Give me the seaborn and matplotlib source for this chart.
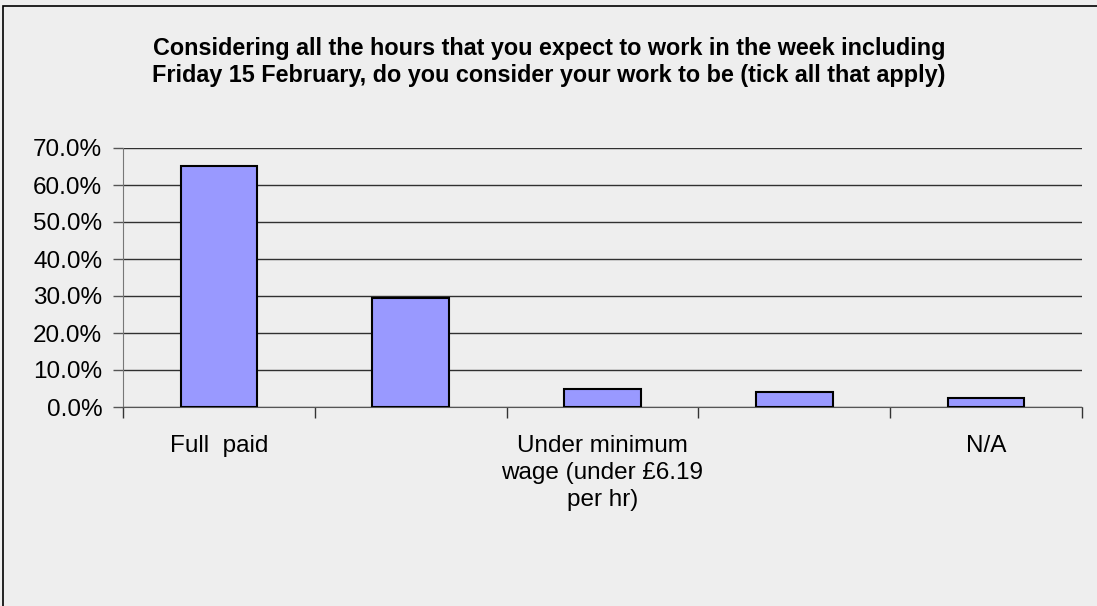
"""
Bar chart of how respondents consider their work (tick all that apply).
"""

import matplotlib
matplotlib.use("Agg")
import matplotlib.pyplot as plt
import matplotlib.ticker as mticker
import seaborn as sns
import pandas as pd

# data
categories = ["Full  paid", "Partly paid", "Under minimum wage", "Unpaid", "N/A"]
shares = [0.651, 0.295, 0.050, 0.040, 0.025]
# Excel only had room for every other category label
shown_labels = ["Full  paid", "", "Under minimum\nwage (under £6.19\nper hr)", "", "N/A"]
y_ticks = [0.0, 0.1, 0.2, 0.3, 0.4, 0.5, 0.6, 0.7]

title = ("Considering all the hours that you expect to work in the week including\n"
         "Friday 15 February, do you consider your work to be (tick all that apply)")

BG = "#eeeeee"
BAR = "#9999ff"

sns.set_style("white")
plt.rcParams["font.family"] = ["Liberation Sans", "DejaVu Sans"]
plt.rcParams["text.color"] = "black"
plt.rcParams["xtick.labelcolor"] = "black"
plt.rcParams["ytick.labelcolor"] = "black"

df = pd.DataFrame({"category": categories, "share": shares})

W, H = 1097, 606
fig = plt.figure(figsize=(W / 100, H / 100), dpi=100, facecolor=BG)

# outer frame (only top and left edges fall inside the image)
fig.add_artist(plt.Rectangle((3 / W, -0.1), 1.2, (H - 6) / H + 0.1,
                             transform=fig.transFigure, fill=False,
                             edgecolor="#000000", linewidth=1.2))

left, right, top, bottom = 123, 1082, 148, 407
ax = fig.add_axes([left / W, 1 - bottom / H, (right - left) / W, (bottom - top) / H])
ax.set_facecolor(BG)

sns.barplot(data=df, x="category", y="share", color=BAR, width=0.4,
            edgecolor="black", linewidth=1.5, saturation=1, ax=ax, zorder=3)

ax.set_xlim(-0.5, len(categories) - 0.5)
ax.set_ylim(0, 0.7)
ax.set_yticks(y_ticks)
ax.yaxis.set_major_formatter(mticker.PercentFormatter(1, decimals=1))
ax.grid(axis="y", color="#303030", linewidth=1, zorder=0)
ax.set_axisbelow(True)

# ticks on category boundaries, labels at category centres
ax.set_xticks([i - 0.5 for i in range(len(categories) + 1)])
ax.set_xticklabels([])
ax.set_xticks(range(len(categories)), minor=True)
ax.set_xticklabels(shown_labels, minor=True, fontsize=17.5, linespacing=1.3,
                   va="top", color="black")
ax.tick_params(axis="x", which="major", length=8, width=1, color="#333333",
               direction="out", bottom=True)
ax.tick_params(axis="x", which="minor", length=0, pad=20)
ax.tick_params(axis="y", length=7, width=1, color="#555555", direction="out",
               left=True, labelsize=17.5, pad=8, labelcolor="black")

for side in ["top", "right"]:
    ax.spines[side].set_visible(False)
ax.spines["left"].set_color("#777777")
ax.spines["bottom"].set_color("#555555")

ax.set_xlabel("")
ax.set_ylabel("")

fig.text(549 / W, 1 - 62 / H, title, ha="center", va="center",
         fontsize=16.8, fontweight="bold", linespacing=1.25, color="black")

fig.savefig("out.png", dpi=100, facecolor=BG)
